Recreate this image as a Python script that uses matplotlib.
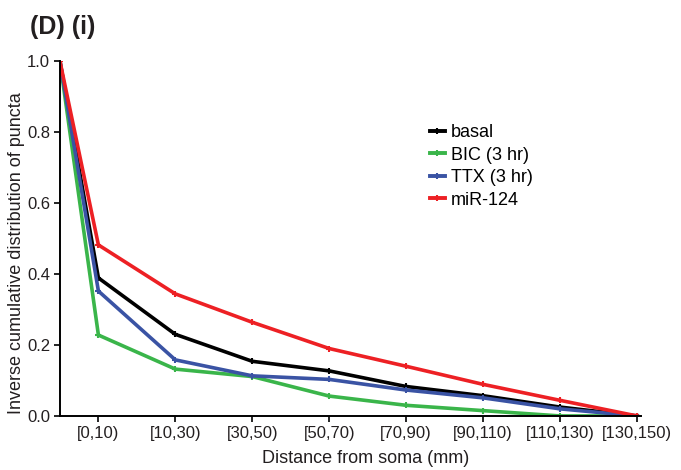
import matplotlib
matplotlib.use("Agg")
import matplotlib.pyplot as plt
import numpy as np

plt.rcParams["font.family"] = ["Liberation Sans", "DejaVu Sans"]

# bins of distance from the soma
bins = ["[0,10)", "[10,30)", "[30,50)", "[50,70)", "[70,90)",
        "[90,110)", "[110,130)", "[130,150)"]

# inverse cumulative distribution, first value is the soma (1.0)
basal = [1.0, 0.389, 0.230, 0.154, 0.127, 0.083, 0.057, 0.025, 0.0]
bic = [1.0, 0.228, 0.132, 0.111, 0.056, 0.030, 0.015, 0.0, 0.0]
ttx = [1.0, 0.352, 0.158, 0.113, 0.103, 0.073, 0.051, 0.020, 0.0]
mir124 = [1.0, 0.482, 0.344, 0.264, 0.190, 0.140, 0.089, 0.044, 0.0]

series = [
    ("basal", basal, "#000000"),
    ("BIC (3 hr)", bic, "#3AB54A"),
    ("TTX (3 hr)", ttx, "#3A53A4"),
    ("miR-124", mir124, "#ED2024"),
]

txt = "#231F20"

fig = plt.figure(figsize=(6.81, 4.70), dpi=100)
ax = fig.add_axes([0.088, 0.115, 0.853, 0.755])

xpos = np.concatenate([[0.0], np.arange(len(bins)) + 0.5])
for name, vals, col in series:
    ax.plot(xpos, vals, color=col, lw=2.6, marker="+", ms=4, mew=1.5,
            label=name, solid_joinstyle="miter")

ax.set_xlim(0, 7.55)
ax.set_ylim(0, 1.0)
ax.set_xticks(np.arange(len(bins)) + 0.5)
ax.set_xticklabels(bins, fontsize=12, color=txt)
ax.set_yticks([0.0, 0.2, 0.4, 0.6, 0.8, 1.0])
ax.set_yticklabels(["0.0", "0.2", "0.4", "0.6", "0.8", "1.0"],
                   fontsize=12, color=txt)
ax.tick_params(axis="both", direction="out", length=4, width=1.2,
               color="#000000", pad=3)
for side in ("top", "right"):
    ax.spines[side].set_visible(False)
for side in ("left", "bottom"):
    ax.spines[side].set_linewidth(1.4)

ax.set_xlabel("Distance from soma (mm)", fontsize=13, color=txt)
ax.set_ylabel("Inverse cumulative distribution of puncta", fontsize=13,
              color=txt)
ax.xaxis.set_label_coords(0.527, -0.096)
ax.yaxis.set_label_coords(-0.060, 0.459)

leg = ax.legend(loc="upper left", bbox_to_anchor=(0.625, 0.842), frameon=False,
                fontsize=13, handlelength=0.8, handletextpad=0.35,
                labelspacing=0.3, borderaxespad=0)
for h in leg.legend_handles:
    h.set_linewidth(2.8)

fig.text(0.044, 0.928, "(D) (i)", fontsize=18, fontweight="bold",
         color=txt)

fig.savefig("out.png", dpi=100)
